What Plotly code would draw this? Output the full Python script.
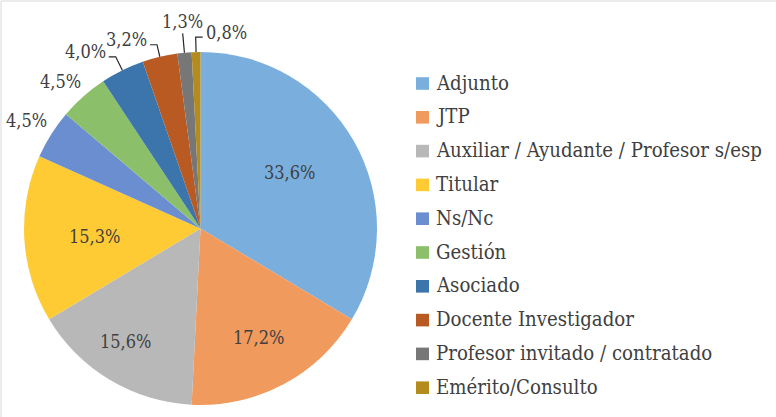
import math
import plotly.graph_objects as go

# ---------------- data ----------------
categories = [
    "Adjunto",
    "JTP",
    "Auxiliar / Ayudante / Profesor s/esp",
    "Titular",
    "Ns/Nc",
    "Gestión",
    "Asociado",
    "Docente Investigador",
    "Profesor invitado / contratado",
    "Emérito/Consulto",
]
values = [33.6, 17.2, 15.6, 15.3, 4.5, 4.5, 4.0, 3.2, 1.3, 0.8]

# ---------------- style ----------------
colors = [
    "#7AAEDD", "#F09A5E", "#B8B8B8", "#FFCB35", "#6A8ED0",
    "#8CBF6A", "#3C74AC", "#B95A22", "#777777", "#B48C1E",
]
FONT = "DejaVu Serif Condensed, DejaVu Serif, serif"
TXT = "#404040"
W, H = 776, 417
CX, CY, R = 200.5, 228.5, 176.5      # pie centre / radius (px)

# label placement: (mode, radius factor, angle nudge in degrees)
label_style = [
    ("in", 0.595, -3.0),
    ("in", 0.70, 0.0),
    ("in", 0.77, 2.6),
    ("in", 0.60, -1.0),
    ("out", 1.16, -0.4),
    ("out", 1.15, -2.2),
    ("lead_l", 1.085, 0.0),
    ("lead_l", 1.07, 0.0),
    ("lead_u", 1.11, 0.0),
    ("lead_r", 1.085, 0.0),
]


def px(x, y):
    return x / W, 1 - y / H


fig = go.Figure(
    go.Pie(
        labels=categories,
        values=values,
        marker=dict(colors=colors, line=dict(width=0)),
        sort=False,
        direction="clockwise",
        rotation=0,
        textinfo="none",
        hoverinfo="label+percent",
        showlegend=False,
        domain=dict(x=[(CX - R) / W, (CX + R) / W],
                    y=[1 - (CY + R) / H, 1 - (CY - R) / H]),
    )
)

total = sum(values)
annotations = []
shapes = []
cum = 0.0
for v, (mode, rf, nudge) in zip(values, label_style):
    mid = (cum + v / 2) / total * 360.0
    cum += v
    text = f"{v:.1f}".replace(".", ",") + "%"
    a = math.radians(mid + nudge)
    lx = CX + rf * R * math.sin(a)
    ly = CY - rf * R * math.cos(a)
    if mode in ("in", "out"):
        x, y = px(lx, ly)
        annotations.append(dict(x=x, y=y, text=text, showarrow=False,
                                xanchor="center", yanchor="middle",
                                font=dict(family=FONT, size=18, color=TXT)))
        continue
    # leader line: pie edge -> elbow -> (horizontal) -> label
    ex = CX + R * math.sin(a)
    ey = CY - R * math.cos(a)
    pts = [(ex, ey), (lx, ly)]
    if mode == "lead_l":
        pts.append((lx - 7, ly))
        tx, ty, xa, ya = lx - 8, ly - 5, "right", "middle"
    elif mode == "lead_r":
        pts.append((lx + 7, ly))
        tx, ty, xa, ya = lx + 8, ly - 5, "left", "middle"
    else:
        tx, ty, xa, ya = lx, ly + 1, "center", "bottom"
    path = "M " + " L ".join(f"{px(p[0], p[1])[0]:.5f},{px(p[0], p[1])[1]:.5f}" for p in pts)
    shapes.append(dict(type="path", xref="paper", yref="paper", path=path,
                       line=dict(color="#262626", width=1.2)))
    x, y = px(tx, ty)
    annotations.append(dict(x=x, y=y, text=text, showarrow=False,
                            xanchor=xa, yanchor=ya,
                            font=dict(family=FONT, size=18, color=TXT)))

# manual legend
LX, LY0, LDY = 416, 83.5, 33.8
for i, (cat, col) in enumerate(zip(categories, colors)):
    yc = LY0 + i * LDY
    x0, y0 = px(LX, yc - 6.3)
    x1, y1 = px(LX + 13, yc + 6.3)
    shapes.append(dict(type="rect", xref="paper", yref="paper",
                       x0=x0, x1=x1, y0=y0, y1=y1,
                       fillcolor=col, line=dict(width=0)))
    tx, ty = px(LX + 18, yc - 1)
    annotations.append(dict(x=tx, y=ty, text=cat, showarrow=False,
                            xanchor="left", yanchor="middle",
                            font=dict(family=FONT, size=20.2, color=TXT)))

# chart border (top/left visible)
shapes.append(dict(type="line", xref="paper", yref="paper",
                   x0=px(1, 1)[0], y0=px(1, 1)[1], x1=1, y1=px(1, 1)[1],
                   line=dict(color="#D9D9D9", width=1)))
shapes.append(dict(type="line", xref="paper", yref="paper",
                   x0=px(1, 1)[0], y0=px(1, 1)[1], x1=px(1, 1)[0], y1=0,
                   line=dict(color="#D9D9D9", width=1)))

fig.update_layout(
    width=W, height=H,
    margin=dict(l=0, r=0, t=0, b=0),
    paper_bgcolor="white",
    plot_bgcolor="white",
    font=dict(family=FONT, color=TXT),
    separators=",.",
    annotations=annotations,
    shapes=shapes,
)

fig.write_html("out.html",
               config={"displayModeBar": False},
               post_script="document.body.style.margin='0';document.body.style.overflow='hidden';")
